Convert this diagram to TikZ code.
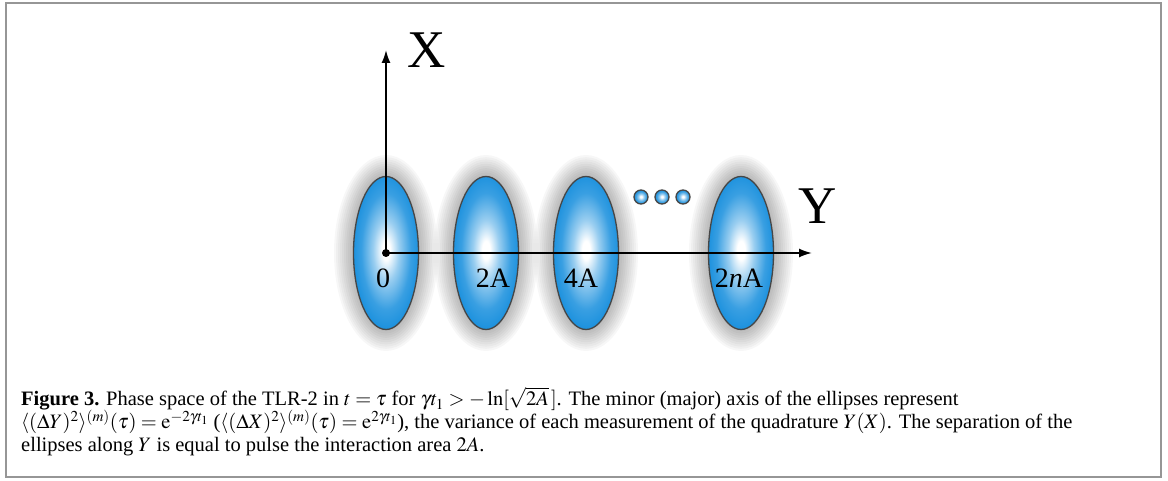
\documentclass[tikz,border=0pt]{standalone}
\usepackage{amsmath}
\usepackage{mathptmx}
\usepackage{fontspec}
\setmainfont{Liberation Serif}
\usetikzlibrary{shapes.geometric,arrows.meta,backgrounds}
\definecolor{ellblue}{RGB}{30,146,222}
\definecolor{ellline}{RGB}{70,70,70}
\definecolor{framegray}{RGB}{150,150,150}
\pgfdeclareradialshading{ellshade}{\pgfpoint{0bp}{1bp}}{color(0bp)=(white); color(3bp)=(white); color(10bp)=(ellblue!45); color(19bp)=(ellblue!88); color(25bp)=(ellblue); color(50bp)=(ellblue)}
\tikzset{
  ellnode/.style={ellipse, draw=ellline, line width=1.3pt, shading=ellshade,
                  minimum width=65pt, minimum height=153pt, inner sep=0pt},
  dotnode/.style={circle, draw=ellline, line width=1.3pt, shading=ellshade,
                  minimum size=14pt, inner sep=0pt},
  axisline/.style={line width=1.8pt, -{Latex[length=13pt,width=9pt]}},
  axislabel/.style={inner sep=0pt, font=\fontsize{53}{60}\selectfont},
  poslabel/.style={inner sep=0pt, font=\fontsize{28}{32}\selectfont},
  capline/.style={anchor=base west, inner sep=0pt, text height=14pt, text depth=5pt,
                  font=\fontsize{20.5}{23}\selectfont},
}
\begin{document}
\begin{tikzpicture}[x=1pt,y=1pt]
  \useasboundingbox (0,0) rectangle (1168,481);
  \draw[framegray, line width=1.5pt] (6,4) rectangle (1161,478);
  % ellipses along Y
  \node[ellnode] (e0) at (386,228) {};
  \node[ellnode] (e1) at (486,228) {};
  \node[ellnode] (e2) at (586,228) {};
  \node[ellnode] (en) at (741,228) {};
  % soft shadow behind the ellipses
  \begin{scope}[on background layer]
    \foreach \e in {e0,e1,e2,en}
      \foreach \k in {1,...,10}
        \fill[black, opacity=0.032] (\e.center) ellipse ({32+2*\k} and {76+2.2*\k});
  \end{scope}
  % dots
  \node[dotnode] (d1) at (641,284) {};
  \node[dotnode] (d2) at (662,284) {};
  \node[dotnode] (d3) at (683,284) {};
  % positions
  \node[poslabel] (l0) at (383,203) {0};
  \node[poslabel] (l1) at (493,203) {2A};
  \node[poslabel] (l2) at (581,203) {4A};
  \node[poslabel] (ln) at (739,203) {2\textit{n}A};
  % axes
  \coordinate (O) at (386,228);
  \coordinate (Xtip) at (386,431);
  \coordinate (Ytip) at (812,228);
  \draw[axisline] (O) -- (Xtip);
  \draw[axisline] (O) -- (Ytip);
  \fill (O) circle (4pt);
  \node[axislabel] (xlab) at (427,431) {X};
  \node[axislabel] (ylab) at (818,275) {Y};
  % caption
  \node[capline] (cap1) at (21,75) {\textbf{Figure 3.} Phase space of the TLR-2 in $t=\tau$ for $\gamma t_1 > -\ln[\sqrt{2A}\,]$. The minor (major) axis of the ellipses represent};
  \node[capline] (cap2) at (21,52) {$\langle(\Delta Y)^2\rangle^{(m)}(\tau)=\mathrm{e}^{-2\gamma t_1}$ ($\langle(\Delta X)^2\rangle^{(m)}(\tau)=\mathrm{e}^{2\gamma t_1}$), the variance of each measurement of the quadrature $Y(X)$. The separation of the};
  \node[capline] (cap3) at (21,29) {ellipses along $Y$ is equal to pulse the interaction area $2A$.};
\end{tikzpicture}
\end{document}
